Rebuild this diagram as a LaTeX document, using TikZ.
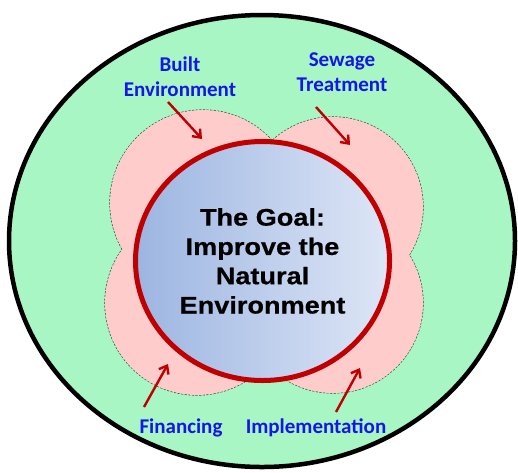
\documentclass[tikz,border=0pt]{standalone}
\usepackage{fontspec}
\setmainfont{Carlito}
\newfontfamily\goalfont{Liberation Sans}[FakeStretch=1.13,FakeBold=0.6]
\usetikzlibrary{arrows.meta,shapes.geometric}
\definecolor{bgreen}{RGB}{168,246,196}
\definecolor{petal}{RGB}{255,204,204}
\definecolor{goalred}{RGB}{192,0,0}
\definecolor{lblue}{RGB}{22,22,230}
\definecolor{gleft}{RGB}{156,181,225}
\definecolor{gright}{RGB}{222,230,246}
\begin{document}
\begin{tikzpicture}[x=1pt,y=-1pt,
  lbl/.style={font=\bfseries\fontsize{21}{25}\selectfont, text=lblue, align=center, inner sep=0pt},
  petaledge/.style={draw=black!75, line width=1.2pt, dash pattern=on 2.2pt off 1.4pt},
  pointer/.style={draw=goalred, line width=2.4pt, -{Straight Barb[length=7pt,width=11pt]}},
]
\useasboundingbox (0,0) rectangle (518,472);
\path[fill=white] (0,0) rectangle (518,472);
\node[ellipse, draw=black, line width=4.5pt, fill=bgreen, minimum width=506pt, minimum height=452pt, inner sep=0pt] (outer) at (262,241) {};
% petals: outlines first, fills on top so only the outer union edge shows
\node[circle, petaledge, minimum size=186pt, inner sep=0pt] (petalTL) at (203,203) {};
\node[circle, petaledge, minimum size=180pt, inner sep=0pt] (petalTR) at (333,207) {};
\node[circle, petaledge, minimum size=184pt, inner sep=0pt] (petalBL) at (197,303) {};
\node[circle, petaledge, minimum size=180pt, inner sep=0pt] (petalBR) at (333,303) {};
\fill[petal] (petalTL.center) circle[radius=93pt];
\fill[petal] (petalTR.center) circle[radius=90pt];
\fill[petal] (petalBL.center) circle[radius=92pt];
\fill[petal] (petalBR.center) circle[radius=90pt];
\node[ellipse, draw=goalred, line width=5pt, left color=gleft, right color=gright,
  minimum width=254pt, minimum height=239pt, inner sep=0pt, align=center,
  font=\goalfont\bfseries\fontsize{24}{29.3}\selectfont] (goal) at (262.5,261)
  {The Goal:\\Improve the\\Natural\\Environment};
\node[lbl] (built) at (180,77) {Built\\Environment};
\node[lbl] (sewage) at (342,72) {Sewage\\Treatment};
\node[lbl, anchor=base] (fin) at (181,433) {Financing};
\node[lbl, anchor=base] (impl) at (316,433) {Implementation};
\coordinate (builtTail) at (168,102);
\coordinate (builtTip) at (202,139);
\coordinate (sewageTail) at (316,107);
\coordinate (sewageTip) at (350,145);
\coordinate (finTail) at (144,407);
\coordinate (finTip) at (168,364);
\coordinate (implTail) at (336,412);
\coordinate (implTip) at (360,368);
\draw[pointer] (builtTail) -- (builtTip);
\draw[pointer] (sewageTail) -- (sewageTip);
\draw[pointer] (finTail) -- (finTip);
\draw[pointer] (implTail) -- (implTip);
\end{tikzpicture}
\end{document}
